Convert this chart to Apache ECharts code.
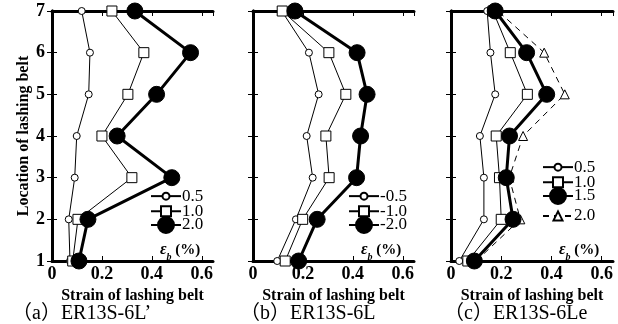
<!DOCTYPE html>
<html>
<head>
<meta charset="utf-8">
<script src="https://cdn.jsdelivr.net/npm/echarts@6/dist/echarts.min.js"></script>
<style>
  html, body { margin: 0; background: #fff; }
  #main { width: 618px; height: 324px; }
</style>
</head>
<body>
<div id="main"></div>
<script>
// location of lashing belt, bottom to top
const locations = [1, 2, 3, 4, 5, 6, 7];
const xTicks = [0, 0.2, 0.4, 0.6];

// (a) ER13S-6L'
const a05 = [0.072, 0.067, 0.091, 0.099, 0.147, 0.152, 0.119];
const a10 = [0.083, 0.104, 0.32, 0.2, 0.304, 0.368, 0.24];
const a20 = [0.108, 0.144, 0.48, 0.261, 0.419, 0.555, 0.332];
// (b) ER13S-6L
const b05 = [0.097, 0.172, 0.239, 0.215, 0.263, 0.224, 0.115];
const b10 = [0.129, 0.199, 0.305, 0.292, 0.372, 0.304, 0.117];
const b20 = [0.183, 0.257, 0.415, 0.431, 0.457, 0.417, 0.168];
// (c) ER13S-6Le
const c05 = [0.033, 0.131, 0.131, 0.115, 0.176, 0.157, 0.144];
const c10 = [0.067, 0.2, 0.193, 0.18, 0.304, 0.236, 0.167];
const c15 = [0.093, 0.247, 0.22, 0.233, 0.381, 0.301, 0.176];
const c20 = [0.1, 0.276, 0.232, 0.287, 0.453, 0.371, 0.187];

const captions = ["（a）ER13S-6L’", "（b）ER13S-6L", "（c）ER13S-6Le"];

const SERIF = "'Liberation Serif', 'Times New Roman', serif";

// marker styles
const styles = {
  small: { symbol: "circle", size: 7, fill: "#fff", width: 1, z: 3 },
  square: { symbol: "rect", size: 10, fill: "#fff", width: 1, z: 4 },
  big: { symbol: "circle", size: 16, fill: "#000", width: 3, z: 5 },
  tri: { symbol: "triangle", size: 9, fill: "#fff", width: 1, dashed: true, z: 2 },
};

const panels = [
  { left: 52, width: 161, cap: 12, legendX: 150, legendY: [192, 209, 226],
    series: [["a|0.5", a05, "small"], ["a|1.0", a10, "square"], ["a|2.0", a20, "big"]] },
  { left: 253, width: 161, cap: 240, legendX: 348, legendY: [192, 209, 226],
    series: [["b|-0.5", b05, "small"], ["b|-1.0", b10, "square"], ["b|-2.0", b20, "big"]] },
  { left: 451, width: 162, cap: 444, legendX: 542, legendY: [163, 180, 197, 213],
    series: [["c|0.5", c05, "small"], ["c|1.0", c10, "square"], ["c|1.5", c15, "big"], ["c|2.0", c20, "tri"]] },
];

const grid = [], xAxis = [], yAxis = [], series = [], legend = [], graphic = [];

panels.forEach((p, i) => {
  grid.push({ left: p.left, top: 11, width: p.width, height: 250 });
  const frame = { show: true, lineStyle: { color: "#000", width: 3 } };
  const ticks = { show: true, inside: true, length: 5, lineStyle: { color: "#000", width: 1 } };
  xAxis.push({
    gridIndex: i, type: "value", min: 0, max: 0.645, interval: 0.2,
    position: "bottom",
    axisLine: frame, axisTick: ticks, splitLine: { show: false },
    axisLabel: {
      margin: 4, showMaxLabel: false, color: "#000",
      fontFamily: SERIF, fontWeight: "bold", fontSize: 18,
      formatter: (v) => (xTicks.includes(+v.toFixed(1)) ? String(+v.toFixed(1)) : ""),
    },
    name: "Strain of lashing belt", nameLocation: "middle", nameGap: 22,
    nameTextStyle: { color: "#000", fontFamily: SERIF, fontWeight: "bold", fontSize: 16 },
  });
  xAxis.push({
    gridIndex: i, type: "value", min: 0, max: 0.645, interval: 0.2,
    position: "top",
    axisLine: frame, axisTick: ticks, axisLabel: { show: false }, splitLine: { show: false },
  });
  yAxis.push({
    gridIndex: i, type: "value", min: 1, max: 7, interval: 1,
    position: "left",
    axisLine: frame, axisTick: ticks, splitLine: { show: false },
    axisLabel: {
      show: i === 0, margin: 7, color: "#000",
      fontFamily: SERIF, fontWeight: "bold", fontSize: 18,
    },
    name: i === 0 ? "Location of lashing belt" : "",
    nameLocation: "middle", nameGap: 20, nameRotate: 90,
    nameTextStyle: { color: "#000", fontFamily: SERIF, fontWeight: "bold", fontSize: 16 },
  });
  yAxis.push({
    gridIndex: i, type: "value", min: 1, max: 7, interval: 1,
    position: "right",
    axisLine: frame, axisTick: ticks, axisLabel: { show: false }, splitLine: { show: false },
  });

  p.series.forEach(([name, vals, key], k) => {
    const st = styles[key];
    series.push({
      name, type: "line", xAxisIndex: i * 2, yAxisIndex: i * 2,
      data: vals.map((v, j) => [v, locations[j]]),
      symbol: st.symbol, symbolSize: st.size, clip: false,
      lineStyle: { color: "#000", width: st.width, type: st.dashed ? [6, 5] : "solid" },
      itemStyle: { color: st.fill, borderColor: "#000", borderWidth: 1 },
      z: st.z,
      emphasis: { disabled: true },
    });
    const ih = st.size / 0.8;
    legend.push({
      data: [name], orient: "vertical", padding: 0,
      left: p.legendX, top: p.legendY[k] - ih / 2,
      itemWidth: 30, itemHeight: ih, selectedMode: false,
      formatter: (n) => n.split("|")[1],
      textStyle: { color: "#000", fontFamily: SERIF, fontSize: 17, padding: [0, 0, 0, -4] },
    });
  });

  graphic.push({
    type: "text", left: p.left + 108, top: 242,
    style: {
      text: "{e|ε}{s|b}{t| (%)}",
      rich: {
        e: { fontFamily: SERIF, fontWeight: "bold", fontStyle: "italic", fontSize: 16, fill: "#000", lineHeight: 20 },
        s: { fontFamily: SERIF, fontWeight: "bold", fontStyle: "italic", fontSize: 10, fill: "#000", verticalAlign: "bottom", lineHeight: 24 },
        t: { fontFamily: SERIF, fontWeight: "bold", fontSize: 15, fill: "#000", lineHeight: 20 },
      },
    },
  });
  graphic.push({
    type: "text", left: p.cap, top: 304,
    style: {
      text: captions[i], fill: "#000",
      font: "20px 'Liberation Serif', 'Noto Sans CJK JP', serif",
    },
  });
});

const chart = echarts.init(document.getElementById("main"), null, { renderer: "canvas" });
chart.setOption({
  backgroundColor: "#fff",
  animation: false,
  grid, xAxis, yAxis, series, legend, graphic,
});
</script>
</body>
</html>
